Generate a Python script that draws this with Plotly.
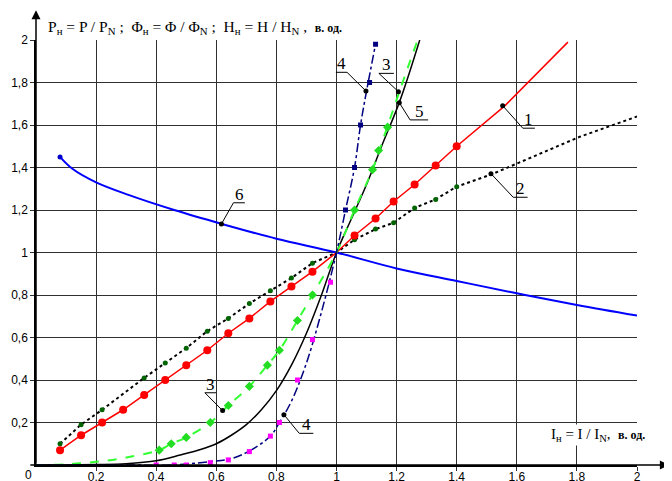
import plotly.graph_objects as go

# ---- data (x = I/I_N, y = relative units) ----
# 1: red solid line with red dots
c1_x = [0.08, 0.15, 0.22, 0.29, 0.36, 0.43, 0.50, 0.57, 0.64, 0.71, 0.78, 0.85, 0.92,
        1.00, 1.06, 1.13, 1.19, 1.26, 1.33, 1.40, 1.56, 1.77]
c1_y = [0.07, 0.14, 0.20, 0.26, 0.33, 0.40, 0.47, 0.54, 0.62, 0.69, 0.77, 0.84, 0.91,
        1.00, 1.08, 1.16, 1.24, 1.32, 1.41, 1.50, 1.69, 1.99]
c1_mx = [0.08, 0.15, 0.22, 0.29, 0.36, 0.43, 0.50, 0.57, 0.64, 0.71, 0.78, 0.85, 0.92,
         1.06, 1.13, 1.19, 1.26, 1.33, 1.40]
c1_my = [0.07, 0.14, 0.20, 0.26, 0.33, 0.40, 0.47, 0.54, 0.62, 0.69, 0.77, 0.84, 0.91,
         1.08, 1.16, 1.24, 1.32, 1.41, 1.50]

# 2: black dotted line with dark green dots
c2_x = [0.08, 0.15, 0.22, 0.36, 0.43, 0.50, 0.57, 0.64, 0.71, 0.78, 0.85, 0.92,
        1.00, 1.06, 1.13, 1.19, 1.26, 1.33, 1.40, 1.52, 1.81, 2.00]
c2_y = [0.10, 0.19, 0.26, 0.41, 0.48, 0.55, 0.63, 0.69, 0.76, 0.82, 0.88, 0.95,
        1.00, 1.06, 1.11, 1.14, 1.21, 1.25, 1.31, 1.37, 1.545, 1.64]
c2_mx = [0.08, 0.15, 0.22, 0.36, 0.43, 0.50, 0.57, 0.64, 0.71, 0.78, 0.85, 0.92,
         1.06, 1.13, 1.19, 1.26, 1.33, 1.40]
c2_my = [0.10, 0.19, 0.26, 0.41, 0.48, 0.55, 0.63, 0.69, 0.76, 0.82, 0.88, 0.95,
         1.06, 1.11, 1.14, 1.21, 1.25, 1.31]

# 3: green dashed line with green diamonds
c3_x = [0.0, 0.1, 0.2, 0.3, 0.41, 0.45, 0.50, 0.58, 0.64, 0.71, 0.77, 0.81, 0.87, 0.92,
        1.00, 1.06, 1.12, 1.14, 1.21, 1.27]
c3_y = [0.0, 0.003, 0.015, 0.035, 0.07, 0.10, 0.13, 0.20, 0.28, 0.37, 0.47, 0.54, 0.68, 0.80,
        1.00, 1.20, 1.39, 1.47, 1.76, 2.00]
c3_mx = [0.41, 0.45, 0.50, 0.58, 0.64, 0.71, 0.77, 0.81, 0.87, 0.92, 1.06, 1.12, 1.14, 1.17]
c3_my = [0.07, 0.10, 0.13, 0.20, 0.28, 0.37, 0.47, 0.54, 0.68, 0.80, 1.20, 1.39, 1.48, 1.59]

# 5: black solid line
c5_x = [0.0, 0.1, 0.2, 0.3, 0.4, 0.48, 0.55, 0.6, 0.65, 0.7, 0.75, 0.8, 0.85, 0.9, 0.95,
        1.0, 1.05, 1.1, 1.15, 1.21, 1.277]
c5_y = [0.0, 0.0, 0.002, 0.006, 0.02, 0.047, 0.074, 0.10, 0.14, 0.19, 0.26, 0.35, 0.47, 0.62, 0.80,
        1.0, 1.16, 1.32, 1.50, 1.71, 2.0]

# 4: navy dash-dot line, magenta squares below 1, navy squares above
c4_x = [0.0, 0.3, 0.45, 0.58, 0.65, 0.71, 0.78, 0.81, 0.85, 0.9, 0.95,
        1.0, 1.03, 1.06, 1.08, 1.10, 1.13]
c4_y = [0.0, 0.0, 0.0, 0.016, 0.03, 0.066, 0.136, 0.20, 0.30, 0.48, 0.72,
        1.0, 1.20, 1.40, 1.60, 1.76, 1.98]
c4_lo_mx = [0.40, 0.46, 0.50, 0.58, 0.64, 0.71, 0.78, 0.81, 0.87, 0.92, 0.98]
c4_lo_my = [0.0, 0.0, 0.0, 0.011, 0.024, 0.063, 0.136, 0.20, 0.40, 0.59, 0.86]
c4_hi_mx = [1.03, 1.06, 1.08, 1.11, 1.13]
c4_hi_my = [1.20, 1.40, 1.60, 1.80, 1.98]

# 6: blue solid line
c6_x = [0.08, 0.12, 0.20, 0.31, 0.46, 0.62, 0.80, 1.00, 1.20, 1.40, 1.60, 1.80, 2.00]
c6_y = [1.45, 1.395, 1.33, 1.27, 1.20, 1.134, 1.065, 1.00, 0.925, 0.866, 0.808, 0.753, 0.703]

x_ticks = [0.2, 0.4, 0.6, 0.8, 1, 1.2, 1.4, 1.6, 1.8, 2]
x_tick_text = ["0.2", "0.4", "0.6", "0.8", "1", "1.2", "1.4", "1.6", "1.8", "2"]
y_ticks = [0.2, 0.4, 0.6, 0.8, 1, 1.2, 1.4, 1.6, 1.8, 2]
y_tick_text = ["0,2", "0,4", "0,6", "0,8", "1", "1,2", "1,4", "1,6", "1,8", "2"]

# callouts: label, point on curve, underline (x0, x1, y), which underline end the leader starts from
callouts = [
    ("1", (1.553, 1.691), (1.620, 1.660, 1.585), 0),
    ("2", (1.514, 1.371), (1.588, 1.636, 1.260), 0),
    ("3", (1.206, 1.757), (1.141, 1.191, 1.843), 0),
    ("5", (1.209, 1.705), (1.245, 1.305, 1.624), 0),
    ("4", (1.098, 1.760), (0.998, 1.035, 1.848), 1),
    ("3", (0.621, 0.256), (0.562, 0.599, 0.340), 0),
    ("4", (0.825, 0.237), (0.876, 0.923, 0.149), 0),
    ("6", (0.617, 1.134), (0.657, 0.695, 1.234), 0),
]

SERIF = "Liberation Serif"
SANS = "Liberation Sans"

fig = go.Figure()

fig.add_trace(go.Scatter(x=c6_x, y=c6_y, mode="lines", line_shape="spline",
                         line=dict(color="#0000ff", width=2)))
fig.add_trace(go.Scatter(x=c6_x[:1], y=c6_y[:1], mode="markers",
                         marker=dict(color="#0000cc", size=5)))

fig.add_trace(go.Scatter(x=c2_x, y=c2_y, mode="lines",
                         line=dict(color="black", width=2, dash="dot")))
fig.add_trace(go.Scatter(x=c2_mx, y=c2_my, mode="markers",
                         marker=dict(color="#006400", size=5)))

fig.add_trace(go.Scatter(x=c1_x, y=c1_y, mode="lines", line=dict(color="#ff0000", width=1.5)))
fig.add_trace(go.Scatter(x=c1_mx, y=c1_my, mode="markers",
                         marker=dict(color="#ff0000", size=8)))

fig.add_trace(go.Scatter(x=c5_x, y=c5_y, mode="lines", line=dict(color="black", width=1.5),
                         line_shape="spline"))

fig.add_trace(go.Scatter(x=c3_x, y=c3_y, mode="lines", line_shape="spline",
                         line=dict(color="#33ff33", width=2, dash="dash")))
fig.add_trace(go.Scatter(x=c3_mx, y=c3_my, mode="markers",
                         marker=dict(color="#22dd22", size=7, symbol="diamond")))

fig.add_trace(go.Scatter(x=c4_x, y=c4_y, mode="lines", line_shape="spline",
                         line=dict(color="#000080", width=1.5, dash="dashdot")))
fig.add_trace(go.Scatter(x=c4_lo_mx, y=c4_lo_my, mode="markers",
                         marker=dict(color="#ff00ff", size=5, symbol="square")))
fig.add_trace(go.Scatter(x=c4_hi_mx, y=c4_hi_my, mode="markers",
                         marker=dict(color="#000080", size=5, symbol="square")))

# callout leaders, underlines, numbers and dots
dots_x, dots_y = [], []
for label, (px, py), (u0, u1, uy), end in callouts:
    sx = u0 if end == 0 else u1
    fig.add_shape(type="line", x0=sx, y0=uy, x1=px, y1=py,
                  line=dict(color="black", width=1))
    fig.add_shape(type="line", x0=u0, y0=uy, x1=u1, y1=uy,
                  line=dict(color="black", width=1))
    fig.add_annotation(x=(u0 + u1) / 2, y=uy, text=label, showarrow=False,
                       xanchor="center", yanchor="bottom", yshift=-3,
                       font=dict(family=SERIF, size=17, color="black"))
    dots_x.append(px)
    dots_y.append(py)
fig.add_trace(go.Scatter(x=dots_x, y=dots_y, mode="markers",
                         marker=dict(color="black", size=5)))

# axis arrows
fig.add_annotation(xref="paper", yref="paper", x=1.053, y=0, ax=-640, ay=0,
                   axref="pixel", ayref="pixel", text="", showarrow=True,
                   arrowhead=2, arrowsize=1.2, arrowwidth=1.5, arrowcolor="black")
fig.add_annotation(xref="paper", yref="paper", x=0, y=1.07, ax=0, ay=455,
                   axref="pixel", ayref="pixel", text="", showarrow=True,
                   arrowhead=2, arrowsize=1.2, arrowwidth=1.5, arrowcolor="black")

fig.add_annotation(xref="paper", yref="paper", x=0.016, y=1.03, xanchor="left", yanchor="middle",
                   showarrow=False, align="left",
                   text="P<sub>н</sub> = P / P<sub>N</sub> ;  Φ<sub>н</sub> = Φ / Φ<sub>N</sub> ;  "
                        "H<sub>н</sub> = H / H<sub>N</sub> ,  "
                        "<b><span style='font-size:12px'>в. од.</span></b>",
                   font=dict(family=SERIF, size=15.5, color="black"))
fig.add_annotation(xref="paper", yref="paper", x=0.853, y=0.07, xanchor="left", yanchor="middle",
                   showarrow=False, bgcolor="white", align="left",
                   text="I<sub>н</sub> = I / I<sub>N</sub>,  "
                        "<b><span style='font-size:12px'>в. од.</span></b>",
                   font=dict(family=SERIF, size=15, color="black"))
fig.add_annotation(x=0, y=0, text="0", showarrow=False, xanchor="right", yanchor="top",
                   xshift=-2, yshift=-1, font=dict(family=SANS, size=12, color="black"))

# page body has an 8px margin: shrink the figure and margins so the plot area
# lands where the reference has it in the 672x481 window
fig.update_layout(
    template="none",
    width=664, height=473,
    margin=dict(l=28, r=35, t=32, b=16),
    paper_bgcolor="white", plot_bgcolor="white",
    showlegend=False,
)
fig.update_xaxes(range=[0, 2], tickvals=x_ticks, ticktext=x_tick_text, automargin=False,
                 showgrid=True, gridcolor="#303030", gridwidth=1, zeroline=False,
                 showline=True, linecolor="black", linewidth=1.5,
                 ticks="outside", ticklen=4, tickcolor="#303030", ticklabelstandoff=-4,
                 tickfont=dict(family=SANS, size=12, color="black"))
fig.update_yaxes(range=[0, 2], tickvals=y_ticks, ticktext=y_tick_text, automargin=False,
                 showgrid=True, gridcolor="#303030", gridwidth=1, zeroline=False,
                 showline=True, linecolor="black", linewidth=1.5,
                 ticks="outside", ticklen=4, tickcolor="#303030",
                 tickfont=dict(family=SANS, size=12, color="black"))

fig.write_html("out.html")
